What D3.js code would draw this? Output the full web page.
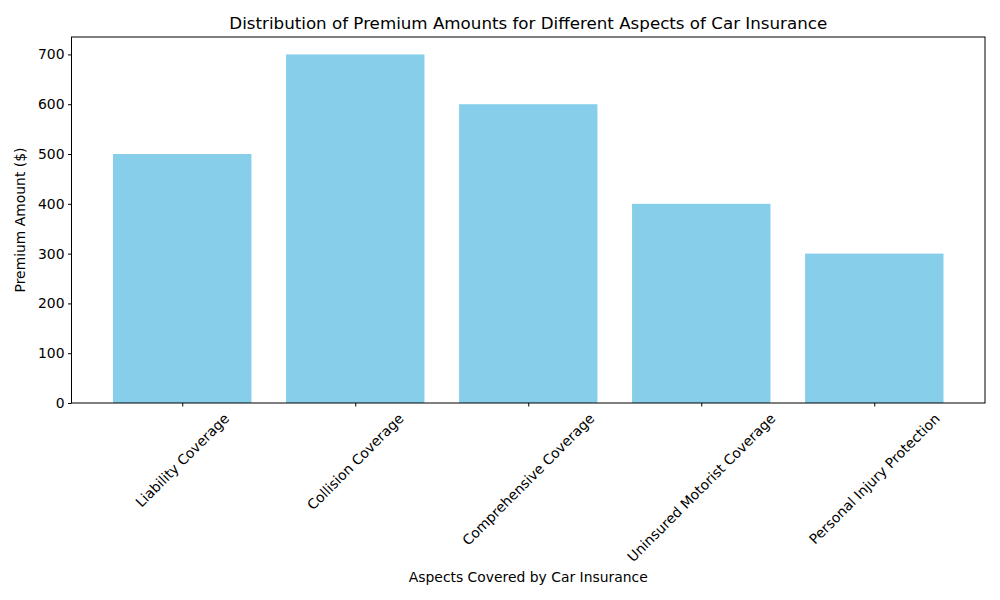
<!DOCTYPE html>
<html><head><meta charset="utf-8">
<script src="https://cdn.jsdelivr.net/npm/d3@7"></script>
<style>body{margin:0;background:#fff}svg{display:block}text{font-family:"DejaVu Sans",sans-serif;fill:#000}</style>
</head><body><svg id="c" width="1000" height="600"></svg>
<script>
const categories = ["Liability Coverage","Collision Coverage","Comprehensive Coverage","Uninsured Motorist Coverage","Personal Injury Protection"];
const premiums = [500,700,600,400,300];
const yTicks = [0,100,200,300,400,500,600,700];

const svg = d3.select("#c");
const L=71.5, R=985, T=37, B=403;
const idx = d3.range(categories.length);
const x = d3.scaleLinear().domain([-0.64, categories.length-1+0.64]).range([L,R]);
const y = d3.scaleLinear().domain([0,735]).range([B,T]);
const fs = 13.9;

svg.selectAll("rect.bar").data(idx).join("rect").attr("class","bar")
  .attr("x", i=>x(i-0.4)).attr("width", x(0.4)-x(-0.4))
  .attr("y", i=>y(premiums[i])).attr("height", i=>y(0)-y(premiums[i]))
  .attr("fill","#87CEEB");

const yAxis = d3.axisLeft(y).tickValues(yTicks).tickSize(3.5).tickPadding(3.5);
const gy = svg.append("g").attr("transform",`translate(${L},0)`).call(yAxis);
gy.select(".domain").remove();
gy.selectAll("text").style("font-size",fs+"px");

const xAxis = d3.axisBottom(x).tickValues(idx).tickSize(3.5).tickFormat(()=> "");
const gx = svg.append("g").attr("transform",`translate(0,${B})`).call(xAxis);
gx.select(".domain").remove();

// rotated labels, centered on tick (matplotlib rotation=45, ha=center)
idx.forEach(i=>{
  const t = svg.append("text").text(categories[i]).style("font-size",fs+"px")
    .attr("text-anchor","middle").attr("dominant-baseline","central");
  const w = t.node().getComputedTextLength();
  const h = fs*1.0;
  const half = (w+h)/(2*Math.SQRT2);
  t.attr("transform",`translate(${x(i)},${B+3.5+4.5+half}) rotate(-45)`);
});

svg.append("rect").attr("x",L).attr("y",T).attr("width",R-L).attr("height",B-T)
  .attr("fill","none").attr("stroke","#000").attr("stroke-width",1);

svg.append("text").attr("x",(L+R)/2).attr("y",29).attr("text-anchor","middle")
  .style("font-size","16.7px").text("Distribution of Premium Amounts for Different Aspects of Car Insurance");
svg.append("text").attr("x",(L+R)/2).attr("y",582).attr("text-anchor","middle")
  .style("font-size",fs+"px").text("Aspects Covered by Car Insurance");
svg.append("text").attr("transform",`translate(25,${(T+B)/2}) rotate(-90)`).attr("text-anchor","middle")
  .style("font-size",fs+"px").text("Premium Amount ($)");
</script></body></html>
